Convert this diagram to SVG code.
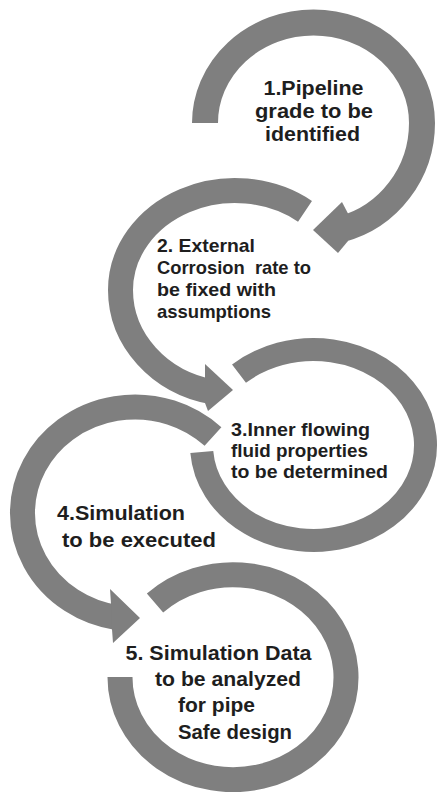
<svg xmlns="http://www.w3.org/2000/svg" width="439" height="792" viewBox="0 0 439 792">
<style>
.ring{fill:none;stroke:#7f7f7f;stroke-width:25}
.head{fill:#7f7f7f;stroke:none}
.t{font-family:"Liberation Sans",Arial,sans-serif;font-weight:700;fill:#1e1e1e}
.s1{font-size:20px}
.s2{font-size:18.5px}
.s3{font-size:18px}
.s4{font-size:20px}
</style>
<rect width="439" height="792" fill="#ffffff"/>
<g id="step1">
<path class="ring" style="stroke-width:26" d="M205,123 A108.5,100.5 0 0 1 422,123 A108.5,110 0 0 1 341,229.4"/>
<text class="t s1" x="263.5" y="94.5" textLength="100" lengthAdjust="spacingAndGlyphs">1.Pipeline</text>
<text class="t s1" x="255" y="117.5" textLength="118" lengthAdjust="spacingAndGlyphs">grade to be</text>
<text class="t s1" x="265" y="141" textLength="95" lengthAdjust="spacingAndGlyphs">identified</text>
</g>
<g id="step2">
<path class="ring" d="M305,211.3 A114.5,99.5 0 0 0 120.5,290 A114.5,104 0 0 0 213,392"/>
<text class="t s2" x="157" y="252" textLength="98" lengthAdjust="spacingAndGlyphs">2. External</text>
<text class="t s2" x="157" y="274" textLength="154" lengthAdjust="spacingAndGlyphs" xml:space="preserve">Corrosion  rate to</text>
<text class="t s2" x="157" y="296" textLength="119" lengthAdjust="spacingAndGlyphs">be fixed with</text>
<text class="t s2" x="157" y="318" textLength="114" lengthAdjust="spacingAndGlyphs">assumptions</text>
</g>
<g id="step3">
<path class="ring" style="stroke-width:23" d="M239,373.7 A112,95.5 0 1 1 201.8,452"/>
<text class="t s3" x="231" y="436" textLength="139" lengthAdjust="spacingAndGlyphs">3.Inner flowing</text>
<text class="t s3" x="231" y="457" textLength="137" lengthAdjust="spacingAndGlyphs">fluid properties</text>
<text class="t s3" x="231" y="478" textLength="157" lengthAdjust="spacingAndGlyphs">to be determined</text>
</g>
<g id="step4">
<path class="ring" d="M213,436.6 A112.5,106 0 1 0 117,617.6"/>
<text class="t s4" x="57" y="520" textLength="128" lengthAdjust="spacingAndGlyphs">4.Simulation</text>
<text class="t s4" x="62" y="546.5" textLength="154" lengthAdjust="spacingAndGlyphs">to be executed</text>
</g>
<g id="step5">
<path class="ring" d="M155,603 A113,102.5 0 1 1 120,677"/>
<text class="t s4" x="125.5" y="660" textLength="186" lengthAdjust="spacingAndGlyphs">5. Simulation Data</text>
<text class="t s4" x="155" y="686" textLength="146" lengthAdjust="spacingAndGlyphs">to be analyzed</text>
<text class="t s4" x="178" y="712" textLength="77" lengthAdjust="spacingAndGlyphs">for pipe</text>
<text class="t s4" x="178" y="739" textLength="114" lengthAdjust="spacingAndGlyphs">Safe design</text>
</g>
<g id="connectors">
<polygon class="head" points="348,213.5 342,202 313,230 338,253 348,241"/>
<polygon class="head" points="205,377.5 205,364 233,390 208,411 205,403"/>
<polygon class="head" points="111,603.8 110,589 140,618 113,643 112,629.3"/>
</g>
</svg>
